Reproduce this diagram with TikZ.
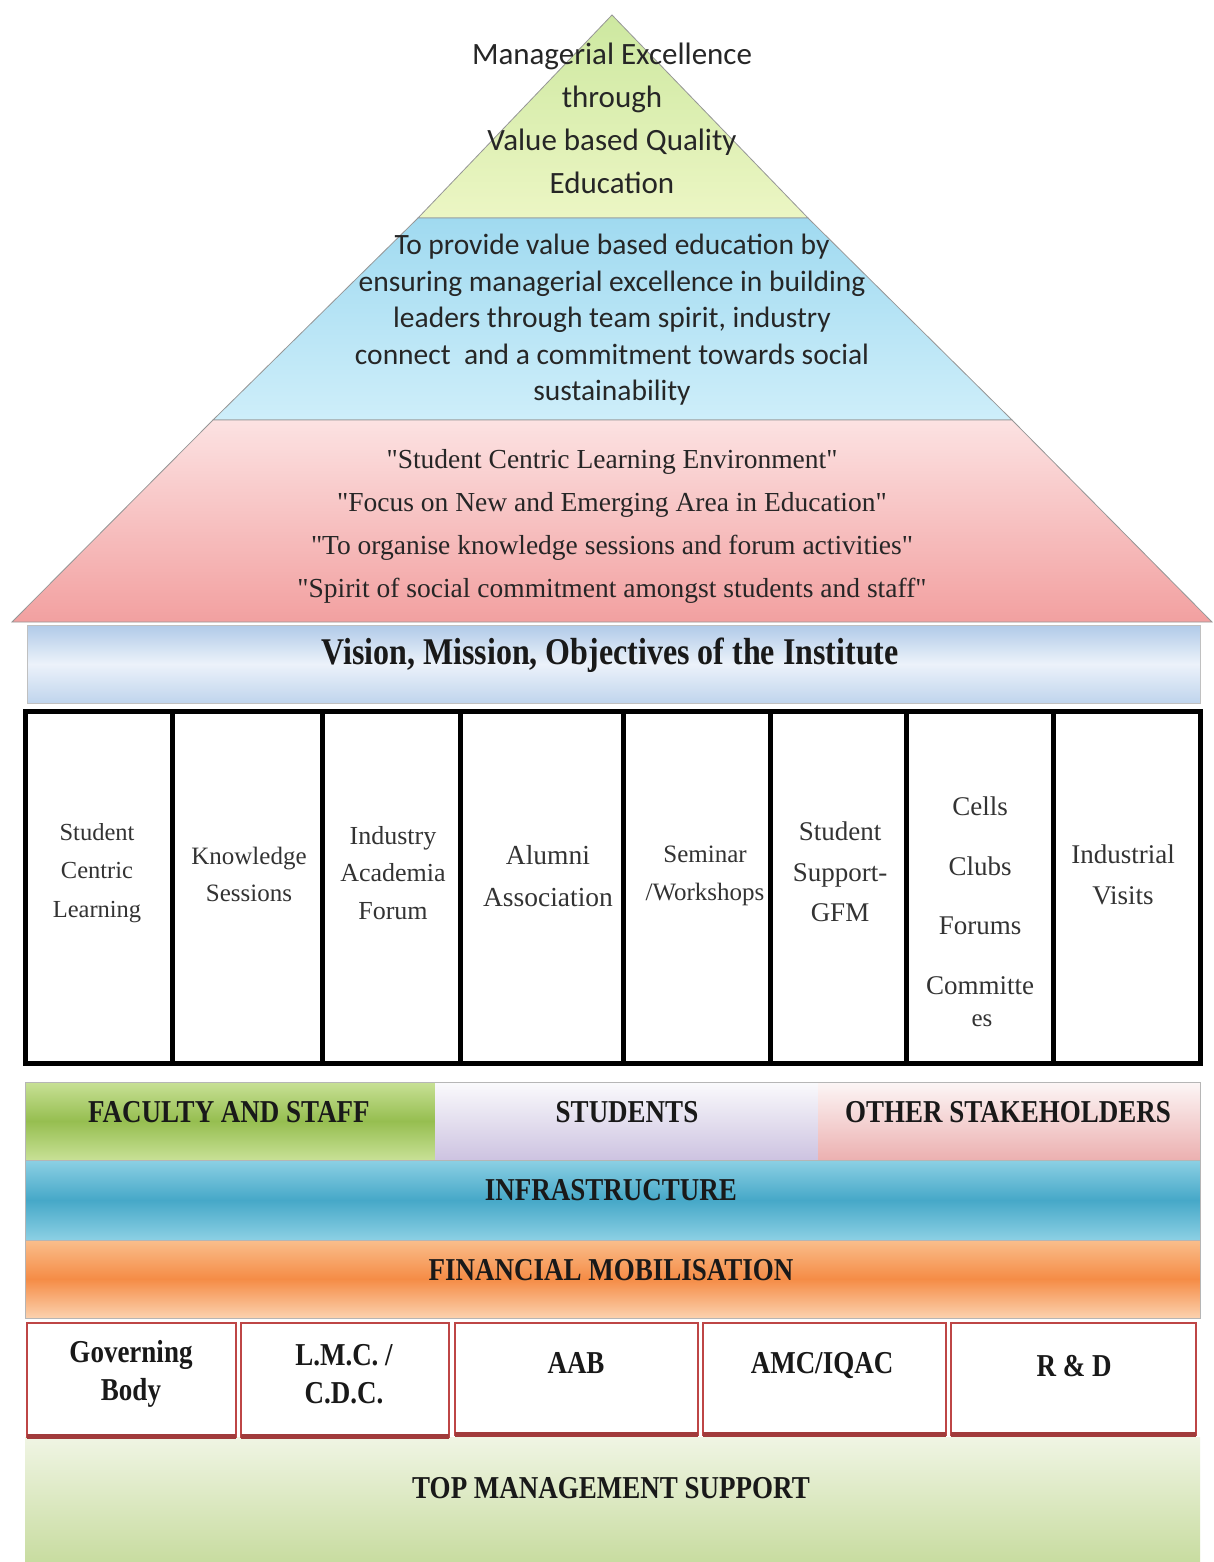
\documentclass[tikz,border=0pt]{standalone}
\usepackage{fontspec}
\setmainfont{Liberation Serif}
\newfontfamily\calfont{Carlito}
\newfontfamily\qfont[Ligatures=ResetAll]{Liberation Serif}
\definecolor{greenA}{RGB}{205,232,160}
\definecolor{greenB}{RGB}{236,246,196}
\definecolor{blueA}{RGB}{160,218,240}
\definecolor{blueB}{RGB}{206,238,250}
\definecolor{pinkA}{RGB}{252,226,226}
\definecolor{pinkB}{RGB}{242,160,160}
\definecolor{visA}{RGB}{176,202,232}
\definecolor{visB}{RGB}{236,242,250}
\definecolor{facA}{RGB}{150,190,80}
\definecolor{facB}{RGB}{200,225,150}
\definecolor{stuA}{RGB}{250,250,252}
\definecolor{stuB}{RGB}{205,195,225}
\definecolor{othA}{RGB}{252,246,246}
\definecolor{othB}{RGB}{236,176,176}
\definecolor{infA}{RGB}{140,208,228}
\definecolor{infB}{RGB}{70,168,200}
\definecolor{finA}{RGB}{250,190,140}
\definecolor{finB}{RGB}{245,140,70}
\definecolor{redline}{RGB}{190,70,70}
\definecolor{topA}{RGB}{240,245,228}
\definecolor{topB}{RGB}{200,220,160}
\definecolor{edge}{RGB}{150,150,150}
\newcommand{\qq}{{\qfont\symbol{34}}}
\newcommand{\tall}[1]{\scalebox{1}[1.18]{#1}}
\tikzset{
  layer/.style={draw=edge, line width=0.8pt},
  pyrtext/.style={align=center, font=\calfont\fontsize{31}{43}\selectfont, text=black!85},
  bluetext/.style={align=center, font=\calfont\fontsize{29.5}{36.5}\selectfont, text=black!85},
  pinktext/.style={align=center, font=\fontsize{27.5}{43}\selectfont, text=black!85},
  pillartext/.style={align=center, font=\fontsize{25}{38}\selectfont, text=black!80},
  bandtext/.style={font=\bfseries\fontsize{27}{30}\selectfont, text=black!90},
  boxtext/.style={align=center, font=\bfseries\fontsize{27}{38}\selectfont, text=black!90},
  redbox/.style={draw=redline, line width=2.5pt, fill=white},
}
\begin{document}
\begin{tikzpicture}[x=1pt,y=-1pt]
\useasboundingbox (0,0) rectangle (1214,1562);
\fill[white] (0,0) rectangle (1214,1562);
% pyramid
\path[layer, top color=greenA, bottom color=greenB] (612,15) -- (808,218) -- (418,218) -- cycle;
\path[layer, top color=blueA, bottom color=blueB] (418,218) -- (808,218) -- (1012,420) -- (213,420) -- cycle;
\path[layer, top color=pinkA, bottom color=pinkB] (213,420) -- (1012,420) -- (1212,622) -- (12,622) -- cycle;
\node[pyrtext] (peak) at (612,118) {Managerial Excellence\\through\\Value based Quality\\Education};
\node[bluetext] (mission) at (612,320) {To provide value based education by\\ensuring managerial excellence in building\\leaders through team spirit, industry\\connect\ \ and a commitment towards social\\sustainability};
\node[pinktext] (objectives) at (612,526) {\qq Student Centric Learning Environment\qq\\\qq Focus on New and Emerging Area in Education\qq\\\qq To organise knowledge sessions and forum activities\qq\\\qq Spirit of social commitment amongst students and staff\qq};
% vision band
\path[draw=edge!60, line width=0.6pt, top color=visA, bottom color=visA!80, middle color=visB] (27,625) rectangle (1200,703);
\node[font=\bfseries\fontsize{32}{34}\selectfont, text=black!90] (vision) at (610,655) {\tall{Vision, Mission, Objectives of the Institute}};
% pillars
\draw[line width=5pt, fill=white] (25,711) rectangle (1200,1063);
\foreach \x in {172,322,460,623,770,906,1053} \draw[line width=5pt] (\x,711) -- (\x,1063);
\node[pillartext, font=\fontsize{24.5}{38.5}\selectfont] (p1) at (97,873) {Student\\Centric\\Learning};
\node[pillartext, font=\fontsize{25}{37}\selectfont] (p2) at (249,874) {Knowledge\\Sessions};
\node[pillartext, font=\fontsize{26}{37.5}\selectfont] (p3) at (393,873) {Industry\\Academia\\Forum};
\node[pillartext, font=\fontsize{27.5}{42}\selectfont] (p4) at (548,876) {Alumni\\Association};
\node[pillartext, font=\fontsize{25}{38}\selectfont] (p5) at (705,876) {Seminar\\/Workshops};
\node[pillartext, font=\fontsize{27}{40.5}\selectfont] (p6) at (840,872) {Student\\Support-\\GFM};
\node[pillartext, font=\fontsize{27}{59.5}\selectfont] (p7) at (980,896) {Cells\\Clubs\\Forums\\Committe};
\node[pillartext, font=\fontsize{25}{30}\selectfont] (p7b) at (982,1021) {es};
\node[pillartext, font=\fontsize{27}{41}\selectfont] (p8) at (1123,875) {Industrial\\Visits};
% stakeholders
\path[top color=facB, bottom color=facB, middle color=facA] (25,1082) rectangle (435,1160);
\path[top color=stuA, bottom color=stuB] (435,1082) rectangle (818,1160);
\path[top color=othA, bottom color=othB] (818,1082) rectangle (1200,1160);
\draw[edge!70, line width=0.6pt] (25,1082) rectangle (1200,1160);
\node[bandtext] (fac) at (229,1112) {\tall{FACULTY AND STAFF}};
\node[bandtext] (stu) at (627,1112) {\tall{STUDENTS}};
\node[bandtext] (oth) at (1008,1112) {\tall{OTHER STAKEHOLDERS}};
% infrastructure
\path[draw=edge!70, line width=0.6pt, top color=infA, bottom color=infA, middle color=infB] (25,1160) rectangle (1200,1240);
\node[bandtext] (infra) at (611,1190) {\tall{INFRASTRUCTURE}};
% financial
\path[draw=edge!70, line width=0.6pt, top color=finA, bottom color=finA!70, middle color=finB] (25,1240) rectangle (1200,1318);
\node[bandtext] (fin) at (611,1270) {\tall{FINANCIAL MOBILISATION}};
% top management
\path[top color=topA, bottom color=topB] (25,1437) rectangle (1200,1562);
\node[bandtext] (tms) at (611,1488) {\tall{TOP MANAGEMENT SUPPORT}};
% bottom boxes
\draw[redbox] (27,1323) rectangle (236,1437);
\draw[redbox] (241,1323) rectangle (449,1437);
\draw[redbox] (455,1323) rectangle (698,1435);
\draw[redbox] (703,1323) rectangle (946,1435);
\draw[redbox] (951,1323) rectangle (1196,1435);
\draw[redline!85!black, line width=5pt] (27,1436) -- (236,1436) (241,1436) -- (449,1436) (455,1434) -- (698,1434) (703,1434) -- (946,1434) (951,1434) -- (1196,1434);
\node[boxtext] (gb) at (131,1374) {\tall{Governing}\\\tall{Body}};
\node[boxtext] (lmc) at (344,1374) {\tall{L.M.C. /}\\\tall{C.D.C.}};
\node[boxtext] (aab) at (576,1363) {\tall{AAB}};
\node[boxtext] (amc) at (822,1366) {\tall{AMC/IQAC}};
\node[boxtext] (rd) at (1074,1366) {\tall{R \& D}};
\end{tikzpicture}
\end{document}
